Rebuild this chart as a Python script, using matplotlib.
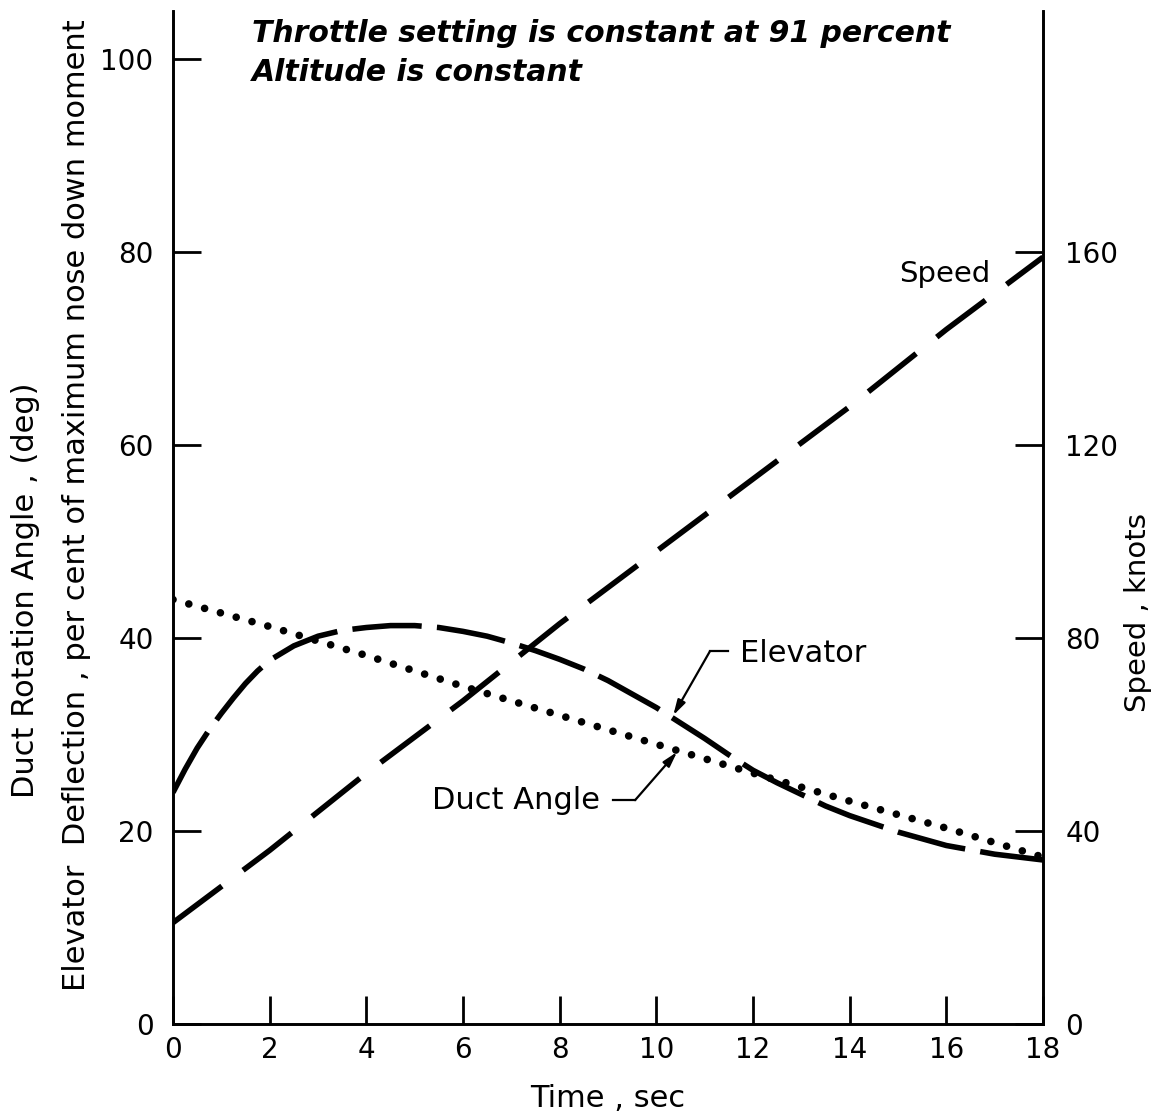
import matplotlib.pyplot as plt

plt.rcParams['font.family'] = ['DejaVu Sans']
plt.rcParams['lines.scale_dashes'] = False

# Data
time_speed = [0, 2, 4, 6, 8, 10, 12, 14, 16, 18]
speed_knots = [21, 36, 52, 67, 83, 98, 113, 128, 144, 159]

time_duct = [0, 2, 4, 6, 8, 10, 12, 14, 16, 18]
duct_angle = [44, 41.2, 38.2, 35.0, 32.0, 29.0, 26.0, 23.1, 20.3, 17.3]

time_elev = [0, 0.25, 0.5, 0.75, 1, 1.25, 1.5, 1.75, 2, 2.5, 3, 3.5, 4, 4.5, 5, 5.5, 6,
             6.5, 7, 7.5, 8, 8.5, 9, 9.5, 10, 10.5, 11, 11.5, 12, 12.5, 13, 13.5, 14,
             15, 16, 17, 18]
elevator = [24, 26.4, 28.6, 30.5, 32.2, 33.8, 35.3, 36.6, 37.7, 39.2, 40.2, 40.8, 41.1,
            41.3, 41.3, 41.1, 40.7, 40.2, 39.5, 38.7, 37.8, 36.8, 35.6, 34.2, 32.8, 31.2,
            29.6, 27.9, 26.3, 25.0, 23.8, 22.6, 21.6, 19.9, 18.5, 17.6, 17.0]

x_ticks = [0, 2, 4, 6, 8, 10, 12, 14, 16, 18]
left_ticks = [0, 20, 40, 60, 80, 100]
right_ticks = [0, 40, 80, 120, 160]

fig = plt.figure(figsize=(11.58, 11.17), dpi=100)
ax = fig.add_axes([0.1494, 0.0833, 0.7513, 0.9067])
ax2 = ax.twinx()

ax.plot(time_elev, elevator, color='black', lw=4, dashes=(50, 11))
ax.plot(time_duct, duct_angle, color='black', lw=5.5, dashes=(0.01, 11.8),
        dash_capstyle='round')
ax2.plot(time_speed, speed_knots, color='black', lw=4, dashes=(44, 19))

ax.set_xlim(0, 18)
ax.set_ylim(0, 105)
ax2.set_ylim(0, 210)
ax.set_xticks(x_ticks)
ax.set_yticks(left_ticks)
ax2.set_yticks(right_ticks)

for a in (ax, ax2):
    a.spines['top'].set_visible(False)
    for s in a.spines.values():
        s.set_linewidth(1.9)
ax.tick_params(axis='both', direction='in', length=20, width=2, labelsize=20)
ax.tick_params(axis='y', pad=14)
ax.tick_params(axis='x', pad=9)
ax2.tick_params(axis='y', direction='in', length=20, width=2, labelsize=20, pad=16)

ax.set_xlabel('Time , sec', fontsize=22, labelpad=14)
fig.text(0.983, 0.452, 'Speed , knots', rotation=90, fontsize=21,
         ha='center', va='center')
fig.text(0.022, 0.472, 'Duct Rotation Angle , (deg)', rotation=90, fontsize=22,
         ha='center', va='center')
fig.text(0.066, 0.548, 'Elevator  Deflection , per cent of maximum nose down moment',
         rotation=90, fontsize=22, ha='center', va='center')

ax.text(1.63, 102.7, 'Throttle setting is constant at 91 percent', fontsize=21.5,
        style='italic', weight='bold', va='center')
ax.text(1.63, 98.6, 'Altitude is constant', fontsize=21.5, style='italic',
        weight='bold', va='center')
ax.text(15.97, 77.8, 'Speed', fontsize=21, ha='center', va='center')

arrow = dict(arrowstyle='-|>,head_length=0.9,head_width=0.25', color='black', lw=1.6,
             shrinkA=0, shrinkB=0)

# Elevator leader
ax.text(11.73, 38.4, 'Elevator', fontsize=22, ha='left', va='center')
ax.plot([11.11, 11.48], [38.65, 38.65], color='black', lw=1.6)
ax.annotate('', xy=(10.35, 32.0), xytext=(11.11, 38.65), arrowprops=arrow)

# Duct angle leader
ax.text(8.83, 23.2, 'Duct Angle', fontsize=22, ha='right', va='center')
ax.plot([9.10, 9.56], [23.2, 23.2], color='black', lw=1.6)
ax.annotate('', xy=(10.43, 28.2), xytext=(9.56, 23.2), arrowprops=arrow)

fig.savefig('out.png', dpi=100)
